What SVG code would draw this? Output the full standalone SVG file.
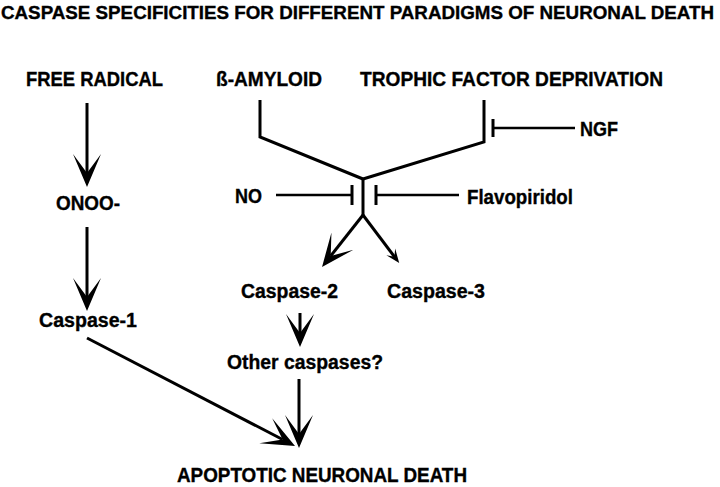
<svg xmlns="http://www.w3.org/2000/svg" width="720" height="487" viewBox="0 0 720 487">
<style>
text{font-family:"Liberation Sans",Arial,sans-serif;font-weight:bold;fill:#000;stroke:#000;stroke-width:0.35;}
.t{font-size:19.5px;}
.ttl{font-size:18px;}
.ln{stroke:#000;stroke-width:3;fill:none;stroke-linejoin:miter;}
.thin{stroke:#000;stroke-width:2.5;fill:none;}
</style>
<defs>
<marker id="big" viewBox="-40 -20 60 40" refX="0" refY="0" markerWidth="60" markerHeight="40" markerUnits="userSpaceOnUse" orient="auto" overflow="visible">
<path d="M14,0 L-19,-14 L0,0 L-19,14 Z" fill="#000"/>
</marker>
<marker id="small" viewBox="-20 -10 30 20" refX="0" refY="0" markerWidth="30" markerHeight="20" markerUnits="userSpaceOnUse" orient="auto" overflow="visible">
<path d="M7,0 L-7,-5.5 L-1,0 L-7,5.5 Z" fill="#000"/>
</marker>
</defs>
<rect width="720" height="487" fill="#fff"/>
<text class="ttl" x="1" y="19" textLength="713" lengthAdjust="spacingAndGlyphs">CASPASE SPECIFICITIES FOR DIFFERENT PARADIGMS OF NEURONAL DEATH</text>
<g id="free-radical"><text class="t" x="26" y="86" textLength="137" lengthAdjust="spacingAndGlyphs">FREE RADICAL</text></g>
<g id="beta-amyloid"><text class="t" x="216" y="86" textLength="106" lengthAdjust="spacingAndGlyphs">ß-AMYLOID</text></g>
<g id="trophic"><text class="t" x="360" y="86" textLength="303" lengthAdjust="spacingAndGlyphs">TROPHIC FACTOR DEPRIVATION</text></g>
<g id="ngf"><text class="t" x="580" y="136" textLength="38" lengthAdjust="spacingAndGlyphs">NGF</text></g>
<g id="no"><text class="t" x="235" y="203" textLength="27" lengthAdjust="spacingAndGlyphs">NO</text></g>
<g id="flavopiridol"><text class="t" x="467" y="204" textLength="106" lengthAdjust="spacingAndGlyphs">Flavopiridol</text></g>
<g id="onoo"><text class="t" x="56" y="210" textLength="64" lengthAdjust="spacingAndGlyphs">ONOO-</text></g>
<g id="caspase-1"><text class="t" x="39" y="327" textLength="98" lengthAdjust="spacingAndGlyphs">Caspase-1</text></g>
<g id="caspase-2"><text class="t" x="241" y="298" textLength="97" lengthAdjust="spacingAndGlyphs">Caspase-2</text></g>
<g id="caspase-3"><text class="t" x="387" y="298" textLength="98" lengthAdjust="spacingAndGlyphs">Caspase-3</text></g>
<g id="other-caspases"><text class="t" x="227" y="369" textLength="156" lengthAdjust="spacingAndGlyphs">Other caspases?</text></g>
<g id="apoptotic-death"><text class="t" x="177" y="482" textLength="290" lengthAdjust="spacingAndGlyphs">APOPTOTIC NEURONAL DEATH</text></g>
<g id="connectors">
<line class="ln" x1="87" y1="103" x2="87" y2="173" marker-end="url(#big)"/>
<line class="ln" x1="87" y1="227" x2="87" y2="297" marker-end="url(#big)"/>
<polyline class="ln" points="260,100 260,137 363,179"/>
<polyline class="ln" points="484,100 484,142 363,179"/>
<line class="thin" x1="493" y1="128" x2="575" y2="128"/>
<line class="ln" x1="493" y1="119" x2="493" y2="137"/>
<line class="ln" x1="363" y1="179" x2="363" y2="216"/>
<line class="thin" x1="276" y1="195" x2="352" y2="195"/>
<line class="ln" x1="352" y1="185" x2="352" y2="205"/>
<line class="thin" x1="376" y1="195" x2="459" y2="195"/>
<line class="ln" x1="376" y1="185" x2="376" y2="205"/>
<line class="ln" x1="363" y1="215" x2="330.7" y2="256" marker-end="url(#big)"/>
<line class="ln" x1="363" y1="215" x2="395" y2="257.5" marker-end="url(#small)"/>
<line class="ln" x1="300" y1="313" x2="300" y2="333" marker-end="url(#big)"/>
<line class="ln" x1="299" y1="379" x2="299" y2="434" marker-end="url(#big)"/>
<line class="ln" x1="87" y1="338" x2="282.6" y2="439.5" marker-end="url(#big)"/>
</g>
</svg>
